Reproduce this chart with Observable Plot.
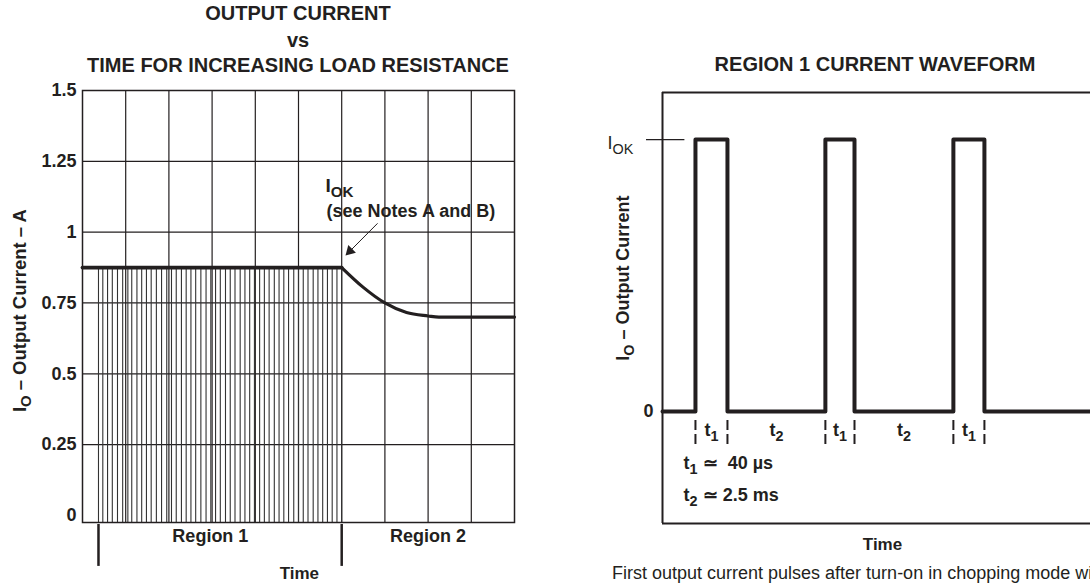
<!DOCTYPE html>
<html><head><meta charset="utf-8">
<script src="https://cdn.jsdelivr.net/npm/d3@7"></script>
<script src="https://cdn.jsdelivr.net/npm/@observablehq/plot@0.6"></script>
<style>
body{margin:0;background:#fff;}
#wrap{position:relative;width:1090px;height:586px;overflow:hidden;font-family:"Liberation Sans",Arial,sans-serif;color:#231f20;background:#fff;}
.t{position:absolute;white-space:nowrap;font-weight:bold;font-size:20px;line-height:20px;transform:translateX(-50%);}
.cap{position:absolute;white-space:nowrap;font-size:18px;line-height:18px;}
</style></head><body><div id="wrap">
<div class="t" style="left:298px;top:3px">OUTPUT CURRENT</div>
<div class="t" style="left:298px;top:30px">vs</div>
<div class="t" style="left:298px;top:55px">TIME FOR INCREASING LOAD RESISTANCE</div>
<div class="t" style="left:875px;top:54px">REGION 1 CURRENT WAVEFORM</div>
<div class="cap" style="left:612px;top:564px">First output current pulses after turn-on in chopping mode with increasing load resistance</div>
</div>
<script>
const INK = "#231f20";
const FONT = "'Liberation Sans', Arial, sans-serif";

// ---- Left chart: output current vs time ----
const yTickValues = [0, 0.25, 0.5, 0.75, 1, 1.25, 1.5];
const yTickLabels = ["0", "0.25", "0.5", "0.75", "1", "1.25", "1.5"];
const xGridLines = [1, 2, 3, 4, 5, 6, 7, 8, 9];
const yGridLines = [0.25, 0.5, 0.75, 1, 1.25];
const pulseTimes = [0.37, 0.47, 0.58, 0.69, 0.81, 0.93, 1.05, 1.14, 1.26, 1.37, 1.48, 1.59, 1.71,
  1.83, 1.95, 2.06, 2.17, 2.29, 2.40, 2.51, 2.62, 2.74, 2.86, 2.97, 3.08, 3.19, 3.31, 3.42, 3.53,
  3.65, 3.76, 3.87, 3.98, 4.10, 4.21, 4.32, 4.44, 4.55, 4.66, 4.77, 4.89, 5.00, 5.11, 5.22, 5.34,
  5.45, 5.56, 5.67, 5.78, 5.89, 6.00];
const pulseLevel = 0.875;
const flatTime = [0, 6.0];
const flatValue = [0.875, 0.875];
const decayTime = [6.0, 6.5, 7.0, 7.5, 8.0, 8.25, 10];
const decayValue = [0.875, 0.805, 0.75, 0.716, 0.704, 0.70, 0.70];
const regionBounds = [0.37, 6.0];
const regionNames = ["Region 1", "Region 2"];
const regionCenters = [2.96, 8.0];

// ---- Right chart: region 1 current waveform ----
const pulseStart = [1.03, 5.09, 9.09];
const pulseEnd = [2.03, 6.0, 10.06];
const waveEnd = 13.375;
const iok = 1;
const durationLabels = ["t_{1}", "t_{2}", "t_{1}", "t_{2}", "t_{1}"];
const notes = ["t_{1} ≃  40 µs", "t_{2} ≃ 2.5 ms"];
const noteY = [-0.191, -0.309];

function subscripts(svg, shift) {
  d3.select(svg).selectAll("text").each(function () {
    const s = this.textContent;
    if (!s.includes("_{")) return;
    const parts = s.split(/(_\{[^}]*\})/).filter(p => p);
    this.textContent = "";
    let down = false;
    for (const p of parts) {
      const ts = document.createElementNS("http://www.w3.org/2000/svg", "tspan");
      if (p.startsWith("_{")) {
        ts.textContent = p.slice(2, -1);
        ts.setAttribute("font-size", "80%");
        ts.setAttribute("dy", shift);
        down = true;
      } else {
        ts.textContent = p;
        if (down) { ts.setAttribute("dy", -shift); down = false; }
      }
      this.appendChild(ts);
    }
  });
}

const flat = flatTime.map((t, k) => ({t, v: flatValue[k]}));
const decay = decayTime.map((t, k) => ({t, v: decayValue[k]}));

const left = Plot.plot({
  width: 560, height: 586,
  marginLeft: 82, marginRight: 46, marginTop: 90, marginBottom: 64,
  x: {domain: [0, 10], axis: null},
  y: {domain: [-0.025, 1.5], axis: null},
  style: {fontFamily: FONT, color: INK, fontWeight: "bold", background: "transparent", overflow: "visible"},
  marks: [
    Plot.ruleX(xGridLines, {stroke: INK, strokeWidth: 1.2}),
    Plot.ruleY(yGridLines, {stroke: INK, strokeWidth: 1.2}),
    Plot.ruleX(pulseTimes, {y1: -0.025, y2: pulseLevel, stroke: "#333", strokeWidth: 1.1}),
    Plot.frame({stroke: INK, strokeWidth: 1.5}),
    Plot.line(flat, {x: "t", y: "v", stroke: INK, strokeWidth: 3.8}),
    Plot.line(decay, {x: "t", y: "v", stroke: INK, strokeWidth: 3.2, curve: "monotone-x"}),
    Plot.axisY(yTickValues, {label: null, tickSize: 0, tickPadding: 6, fontSize: 18, fontWeight: "bold",
      tickFormat: d => yTickLabels[yTickValues.indexOf(d)]}),
    Plot.text(["I_{O} – Output Current – A"], {x: -1.435, y: 0.723, rotate: -90, fontSize: 18.5, fill: INK}),
    Plot.ruleX(regionBounds, {y1: -0.032, y2: -0.18, stroke: INK, strokeWidth: 2.5}),
    Plot.text(regionNames, {x: (d, i) => regionCenters[i], y: -0.074, fontSize: 18, fill: INK}),
    Plot.text(["Time"], {x: 5.02, y: -0.205, fontSize: 17, fill: INK}),
    Plot.text(["I_{OK}"], {x: 5.625, y: 1.14, textAnchor: "start", lineAnchor: "bottom", fontSize: 19, fill: INK}),
    Plot.text(["(see Notes A and B)"], {x: 5.65, y: 1.052, textAnchor: "start", lineAnchor: "bottom", fontSize: 18, fill: INK}),
    Plot.link([0], {x1: 6.83, y1: 1.031, x2: 6.19, y2: 0.933, stroke: INK, strokeWidth: 1}),
    Plot.dot([0], {x: 6.19, y: 0.933, symbol: "triangle", r: 4, fill: INK, stroke: null, rotate: 225})
  ]
});
subscripts(left, 5);

const wave = [{t: 0, i: 0}];
pulseStart.forEach((s, k) => {
  wave.push({t: s, i: 0}, {t: s, i: iok}, {t: pulseEnd[k], i: iok}, {t: pulseEnd[k], i: 0});
});
wave.push({t: waveEnd, i: 0});
const edges = pulseStart.flatMap((s, k) => [s, pulseEnd[k]]);
const labelX = edges.slice(0, -1).map((e, k) => (e + edges[k + 1]) / 2);

const right = Plot.plot({
  width: 530, height: 586,
  marginLeft: 102, marginRight: 0, marginTop: 92, marginBottom: 63,
  x: {domain: [0, waveEnd], axis: null},
  y: {domain: [-0.412, 1.173], axis: null},
  style: {fontFamily: FONT, color: INK, fontWeight: "bold", background: "transparent", overflow: "visible"},
  marks: [
    Plot.ruleX([0], {stroke: INK, strokeWidth: 2}),
    Plot.ruleY([-0.412, 1.173], {stroke: INK, strokeWidth: 2}),
    Plot.ruleY([iok], {x1: -0.5, x2: 0.7, stroke: INK, strokeWidth: 1.3}),
    Plot.line(wave, {x: "t", y: "i", stroke: INK, strokeWidth: 4, strokeLinejoin: "round"}),
    Plot.ruleX(edges, {y1: -0.033, y2: -0.132, stroke: INK, strokeWidth: 2, strokeDasharray: "10,4"}),
    Plot.text(durationLabels, {x: (d, i) => labelX[i], y: -0.092, lineAnchor: "bottom", fontSize: 18, fill: INK}),
    Plot.text(notes, {x: 0.66, y: (d, i) => noteY[i], textAnchor: "start", fontSize: 18, fill: INK}),
    Plot.text(["0"], {x: -0.44, y: 0, fontSize: 18, fill: INK}),
    Plot.text(["I_{OK}"], {x: -1.72, y: 0.967, textAnchor: "start", lineAnchor: "bottom", fontSize: 18, fontWeight: "normal", fill: INK}),
    Plot.text(["I_{O} – Output Current"], {x: -1.22, y: 0.49, rotate: -90, fontSize: 18, fill: INK}),
    Plot.text(["Time"], {x: 6.875, y: -0.489, fontSize: 17, fill: INK})
  ]
});
subscripts(right, 5);

for (const [el, x] of [[left, 0], [right, 560]]) {
  el.style.position = "absolute";
  el.style.left = x + "px";
  el.style.top = "0px";
  document.getElementById("wrap").appendChild(el);
}
</script></body></html>
